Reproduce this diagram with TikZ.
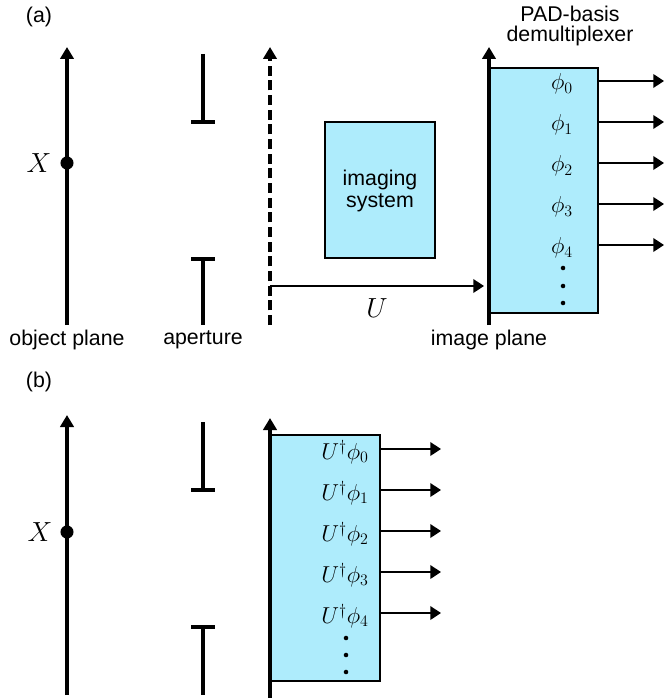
\documentclass[tikz,border=0pt]{standalone}
\usepackage{fontspec}
\setmainfont{Liberation Sans}
\usetikzlibrary{arrows.meta,positioning}
\definecolor{boxcyan}{RGB}{174,236,252}
\tikzset{every picture/.style={line width=0.75pt}}

\begin{document}
\begin{tikzpicture}[x=0.75pt,y=0.75pt,yscale=-1,xscale=1,
  planeaxis/.style={line width=2.3pt,-{Triangle[width=10pt,length=9pt]}},
  outarrow/.style={line width=1.8pt,-{Triangle[width=10pt,length=8pt]}},
  stopbar/.style={line width=2.3pt},
  cyanbox/.style={draw,line width=1.6pt,fill=boxcyan,inner sep=0pt},
  txt/.style={font=\fontsize{16}{15}\selectfont,align=center,inner sep=0pt},
  bigmath/.style={font=\fontsize{21}{21}\selectfont,inner sep=0pt},
  philabel/.style={font=\fontsize{16.5}{16.5}\selectfont,inner sep=0pt},
  dotpt/.style={circle,fill,inner sep=0pt,minimum size=9.8pt}]
\useasboundingbox (0,0) rectangle (665,698);

%%%%%%%%%%%%%%%%%%%% (a)
\node[txt] (taga) at (39,17) {(a)};

%Object plane
\coordinate (obja0) at (67,325);
\coordinate (obja1) at (67,47);
\draw[planeaxis] (obja0) -- (obja1);
\node[dotpt] (pta) at (67,163) {};
\node[bigmath] (xa) at (39,163) {$X$};
\node[txt] (objlab) at (67,340) {object plane};

%Aperture
\draw[stopbar] (203,54) -- (203,122) (191,122) -- (215,122);
\draw[stopbar] (191,259) -- (215,259) (203,259) -- (203,325);
\node[txt] (aperlab) at (203,340) {aperture};

%Dashed input plane
\coordinate (ina0) at (270,325);
\coordinate (ina1) at (270,47);
\draw[planeaxis,dash pattern={on 7.5pt off 3.5pt}] (ina0) -- (ina1);

%Imaging system
\node[cyanbox,minimum width=82.5pt,minimum height=102pt] (imsys) at (380,190) {};
\node[txt,font=\fontsize{16}{17}\selectfont] (imlab) at (380,191) {imaging\\system};

%Demultiplexer
\node[cyanbox,minimum width=81pt,minimum height=183.75pt] (demux) at (544,190.5) {};
\coordinate (imga0) at (489,325);
\coordinate (imga1) at (489,47);
\draw[planeaxis] (imga0) -- (imga1);
\node[txt] (padlab) at (570,26) {PAD-basis\\demultiplexer};
\node[txt] (imglab) at (489,340) {image plane};

%U arrow
\coordinate (ua) at (270,286);
\coordinate (ub) at (484,286);
\draw[outarrow] (ua) -- (ub);
\node[bigmath] (ulab) at (377,308) {$U$};

\foreach \i/\y in {0/81,1/122,2/163,3/204,4/245} {
  \node[philabel] (pa\i) at (562,\y+3) {$\phi_{\i}$};
  \coordinate (outa\i) at (664,\y);
  \draw[outarrow] (demux.east |- outa\i) -- (outa\i);
}
\foreach \y in {268,286,303} \fill (563,\y) circle (1.7pt);

%%%%%%%%%%%%%%%%%%%% (b)
\node[txt] (tagb) at (39,382) {(b)};

%Object plane
\coordinate (objb0) at (67,695);
\coordinate (objb1) at (67,415);
\draw[planeaxis] (objb0) -- (objb1);
\node[dotpt] (ptb) at (67,532) {};
\node[bigmath] (xb) at (40,532) {$X$};

%Aperture
\draw[stopbar] (203,422) -- (203,490) (191,490) -- (215,490);
\draw[stopbar] (191,627) -- (215,627) (203,627) -- (203,695);

%Back-propagated demultiplexer
\node[cyanbox,minimum width=81.75pt,minimum height=184.5pt] (demuxb) at (325.5,558) {};
\coordinate (inb0) at (270,698);
\coordinate (inb1) at (270,418);
\draw[planeaxis] (inb0) -- (inb1);

\foreach \i/\y in {0/449,1/490,2/531,3/572,4/613} {
  \node[philabel,font=\fontsize{17}{17}\selectfont] (pb\i) at (345,\y+3) {$U^\dagger\phi_{\i}$};
  \coordinate (outb\i) at (441,\y);
  \draw[outarrow] (demuxb.east |- outb\i) -- (outb\i);
}
\foreach \y in {638,655,672} \fill (346,\y) circle (1.7pt);

\end{tikzpicture}
\end{document}
